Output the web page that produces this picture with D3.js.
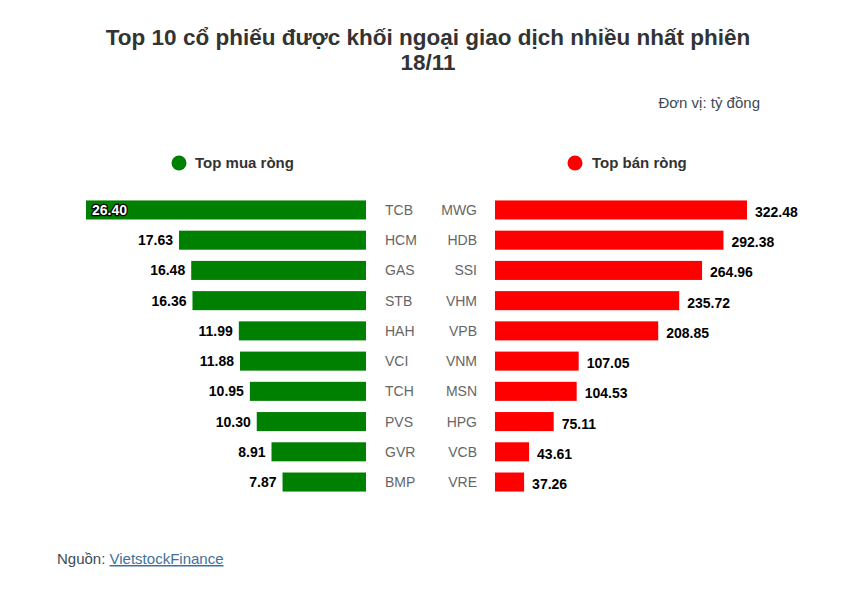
<!DOCTYPE html>
<html><head><meta charset="utf-8">
<script src="https://cdn.jsdelivr.net/npm/d3@7"></script>
<style>body{margin:0;background:#fff;font-family:"Liberation Sans",Arial,sans-serif}</style>
</head><body>
<svg id="c" width="842" height="590"></svg>
<script>
const buyTickers = ["TCB","HCM","GAS","STB","HAH","VCI","TCH","PVS","GVR","BMP"];
const buyValues = [26.40,17.63,16.48,16.36,11.99,11.88,10.95,10.30,8.91,7.87];
const sellTickers = ["MWG","HDB","SSI","VHM","VPB","VNM","MSN","HPG","VCB","VRE"];
const sellValues = [322.48,292.38,264.96,235.72,208.85,107.05,104.53,75.11,43.61,37.26];

const svg = d3.select("#c");
svg.append("rect").attr("width",842).attr("height",590).attr("fill","#fff");

svg.append("text").attr("x",428).attr("y",45).attr("text-anchor","middle")
  .attr("font-size",22.5).attr("font-weight","bold").attr("fill","#333")
  .text("Top 10 cổ phiếu được khối ngoại giao dịch nhiều nhất phiên");
svg.append("text").attr("x",428).attr("y",70).attr("text-anchor","middle")
  .attr("font-size",22.5).attr("font-weight","bold").attr("fill","#333").text("18/11");

svg.append("text").attr("x",760).attr("y",108).attr("text-anchor","end")
  .attr("font-size",15).attr("fill","#3d4a55").text("Đơn vị: tỷ đồng");

// legend
svg.append("circle").attr("cx",179).attr("cy",163).attr("r",7.5).attr("fill","#008000");
svg.append("text").attr("x",195).attr("y",168).attr("font-size",15).attr("font-weight","bold").attr("fill","#333").text("Top mua ròng");
svg.append("circle").attr("cx",575).attr("cy",163).attr("r",7.5).attr("fill","#ff0000");
svg.append("text").attr("x",592).attr("y",168).attr("font-size",15).attr("font-weight","bold").attr("fill","#333").text("Top bán ròng");

const y = d3.scaleBand().domain(d3.range(10)).range([195,497]).paddingInner(0.37).paddingOuter(0.18);
const xL = d3.scaleLinear().domain([0,26.40]).range([366,86]);
const xR = d3.scaleLinear().domain([0,322.48]).range([495,747]);

const gL = svg.append("g");
buyValues.forEach((v,i)=>{
  gL.append("rect").attr("x",xL(v)).attr("y",y(i)).attr("width",xL(0)-xL(v)).attr("height",y.bandwidth()).attr("fill","#008000");
  const cy = y(i)+y.bandwidth()/2;
  if(i===0){
    gL.append("text").attr("x",xL(v)+6).attr("y",cy+5).attr("font-size",14).attr("font-weight","bold")
      .attr("fill","#fff").attr("stroke","#000").attr("stroke-width",2.5).attr("paint-order","stroke").text(v.toFixed(2));
  } else {
    gL.append("text").attr("x",xL(v)-6).attr("y",cy+5).attr("text-anchor","end").attr("font-size",14).attr("font-weight","bold").attr("fill","#000").text(v.toFixed(2));
  }
  gL.append("text").attr("x",385).attr("y",cy+5).attr("font-size",14).attr("fill","#666").text(buyTickers[i]);
});
const gR = svg.append("g");
sellValues.forEach((v,i)=>{
  gR.append("rect").attr("x",xR(0)).attr("y",y(i)).attr("width",xR(v)-xR(0)).attr("height",y.bandwidth()).attr("fill","#ff0000");
  const cy = y(i)+y.bandwidth()/2;
  gR.append("text").attr("x",xR(v)+8).attr("y",cy+7).attr("font-size",14).attr("font-weight","bold").attr("fill","#000").text(v.toFixed(2));
  gR.append("text").attr("x",477).attr("y",cy+5).attr("text-anchor","end").attr("font-size",14).attr("fill","#666").text(sellTickers[i]);
});

const f = svg.append("text").attr("x",57).attr("y",564).attr("font-size",15).attr("fill","#3d4a55");
f.append("tspan").text("Nguồn: ");
f.append("tspan").attr("fill","#3d7199").attr("text-decoration","underline").text("VietstockFinance");
</script>
</body></html>
